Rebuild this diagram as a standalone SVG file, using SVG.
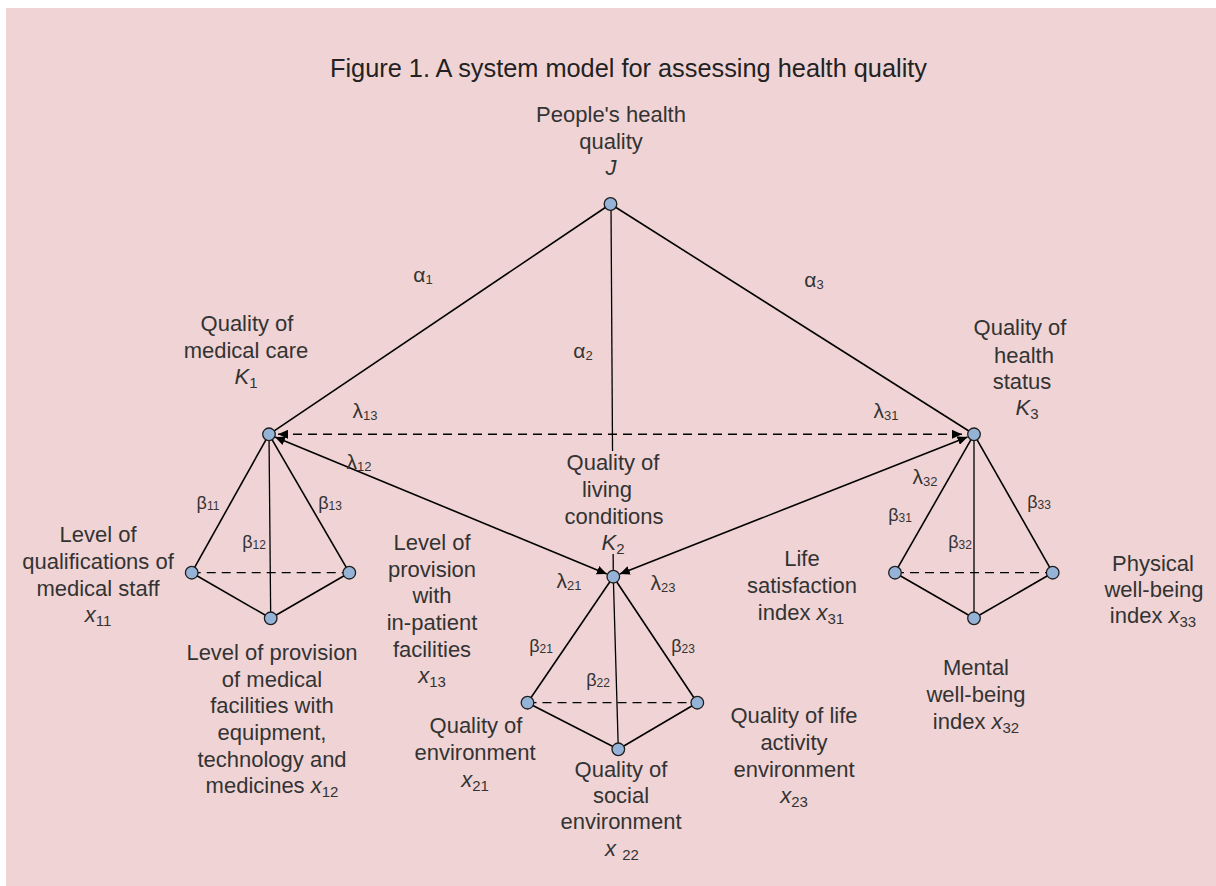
<svg xmlns="http://www.w3.org/2000/svg" width="1216" height="886" viewBox="0 0 1216 886">
  <style>
    .t { font-family: "Liberation Sans", Arial, Helvetica, sans-serif; fill: #333; text-anchor: middle; }
    .lbl { font-size: 22px; }
    .it { font-style: italic; }
    .sub { font-size: 15px; }
    .gk { font-size: 21px; }
    .gb { font-size: 18px; }
    .gs { font-size: 13px; }
    .gsb { font-size: 12px; }
    .ln { stroke: #000; stroke-width: 1.6; fill: none; }
    .thin { stroke-width: 1.3; }
    .dash { stroke-dasharray: 9 6; }
    .node circle { fill: #95B3D7; stroke: #1e1e1e; stroke-width: 1.3; }
  </style>
  <defs>
    <marker id="ah" viewBox="0 0 10 9" refX="10" refY="4.5" markerWidth="10" markerHeight="9" markerUnits="userSpaceOnUse" orient="auto-start-reverse">
      <path d="M0,0 L10,4.5 L0,9 z" fill="#000"/>
    </marker>
  </defs>

  <!-- background panel -->
  <rect x="0" y="0" width="1216" height="886" fill="#ffffff"/>
  <rect x="6" y="8" width="1210" height="878" fill="#F0D4D5"/>

  <text class="t" x="628.5" y="77" font-size="26" textLength="597" lengthAdjust="spacingAndGlyphs" style="fill:#222">Figure 1. A system model for assessing health quality</text>

  <!-- connectors -->
  <g id="connectors">
    <!-- top level weights -->
    <line class="ln" x1="610.5" y1="204" x2="269" y2="434.3"/>
    <line class="ln" x1="610.5" y1="204" x2="974" y2="434.3"/>
    <line class="ln thin" x1="611" y1="204" x2="613.3" y2="576.7"/>

    <!-- mutual influences -->
    <line class="ln dash" x1="278" y1="434.3" x2="962" y2="434.3" marker-start="url(#ah)" marker-end="url(#ah)"/>
    <line class="ln" x1="275" y1="437" x2="606.8" y2="574" marker-start="url(#ah)" marker-end="url(#ah)"/>
    <line class="ln" x1="967.5" y1="436.9" x2="619.8" y2="574.1" marker-start="url(#ah)" marker-end="url(#ah)"/>

    <!-- K1 pyramid -->
    <line class="ln" x1="269" y1="434.3" x2="191.7" y2="572.7"/>
    <line class="ln" x1="269" y1="434.3" x2="349.3" y2="572.7"/>
    <line class="ln thin" x1="269" y1="434.3" x2="270.7" y2="618.3"/>
    <line class="ln" x1="191.7" y1="572.7" x2="270.7" y2="618.3"/>
    <line class="ln" x1="349.3" y1="572.7" x2="270.7" y2="618.3"/>
    <line class="ln thin dash" x1="191.7" y1="572.7" x2="349.3" y2="572.7"/>

    <!-- K2 pyramid -->
    <line class="ln" x1="613.3" y1="576.7" x2="527.5" y2="702.7"/>
    <line class="ln" x1="613.3" y1="576.7" x2="697.3" y2="702.7"/>
    <line class="ln thin" x1="613.3" y1="576.7" x2="618.3" y2="749.3"/>
    <line class="ln" x1="527.5" y1="702.7" x2="618.3" y2="749.3"/>
    <line class="ln" x1="697.3" y1="702.7" x2="618.3" y2="749.3"/>
    <line class="ln thin dash" x1="527.5" y1="702.7" x2="697.3" y2="702.7"/>

    <!-- K3 pyramid -->
    <line class="ln" x1="974" y1="434.3" x2="895" y2="572.7"/>
    <line class="ln" x1="974" y1="434.3" x2="1052.7" y2="572.7"/>
    <line class="ln thin" x1="974" y1="434.3" x2="974" y2="618.3"/>
    <line class="ln" x1="895" y1="572.7" x2="974" y2="618.3"/>
    <line class="ln" x1="1052.7" y1="572.7" x2="974" y2="618.3"/>
    <line class="ln thin dash" x1="895" y1="572.7" x2="1052.7" y2="572.7"/>

    <!-- weight labels -->
    <text class="t gk" x="423" y="282">α<tspan class="gs" dy="2">1</tspan></text>
    <text class="t gk" x="583" y="358">α<tspan class="gs" dy="2">2</tspan></text>
    <text class="t gk" x="814" y="287">α<tspan class="gs" dy="2">3</tspan></text>

    <text class="t gk" x="365" y="418">λ<tspan class="gs" dy="2">13</tspan></text>
    <text class="t gk" x="359" y="469">λ<tspan class="gs" dy="2">12</tspan></text>
    <text class="t gk" x="886" y="418">λ<tspan class="gs" dy="2">31</tspan></text>
    <text class="t gk" x="925" y="484">λ<tspan class="gs" dy="2">32</tspan></text>
    <text class="t gk" x="569" y="588">λ<tspan class="gs" dy="2">21</tspan></text>
    <text class="t gk" x="663" y="590">λ<tspan class="gs" dy="2">23</tspan></text>

    <text class="t gb" x="208" y="509">β<tspan class="gsb" dy="1">11</tspan></text>
    <text class="t gb" x="254" y="548">β<tspan class="gsb" dy="1">12</tspan></text>
    <text class="t gb" x="330" y="509">β<tspan class="gsb" dy="1">13</tspan></text>
    <text class="t gb" x="541" y="652">β<tspan class="gsb" dy="1">21</tspan></text>
    <text class="t gb" x="598" y="686">β<tspan class="gsb" dy="1">22</tspan></text>
    <text class="t gb" x="683" y="652">β<tspan class="gsb" dy="1">23</tspan></text>
    <text class="t gb" x="900" y="521">β<tspan class="gsb" dy="1">31</tspan></text>
    <text class="t gb" x="960" y="548">β<tspan class="gsb" dy="1">32</tspan></text>
    <text class="t gb" x="1039" y="508">β<tspan class="gsb" dy="1">33</tspan></text>
  </g>

  <!-- top node -->
  <g id="node-J" class="node">
    <circle cx="610.5" cy="204" r="6.3"/>
    <text class="t lbl" x="611" y="122">People's health</text>
    <text class="t lbl" x="611" y="148.5">quality</text>
    <text class="t lbl it" x="611" y="175">J</text>
  </g>

  <!-- aggregate criteria -->
  <g id="node-K1" class="node">
    <circle cx="269" cy="434.3" r="6.3"/>
    <text class="t lbl" x="247" y="331">Quality of</text>
    <text class="t lbl" x="246" y="357.5">medical care</text>
    <text class="t lbl" x="246" y="384"><tspan class="it">K</tspan><tspan class="sub" dy="4">1</tspan></text>
  </g>

  <g id="node-K2" class="node">
    <rect x="600" y="451" width="26" height="103" fill="#F0D4D5"/>
    <circle cx="613.3" cy="576.7" r="6.3"/>
    <text class="t lbl" x="613" y="470">Quality of</text>
    <text class="t lbl" x="607" y="497">living</text>
    <text class="t lbl" x="614" y="524">conditions</text>
    <text class="t lbl" x="613" y="550"><tspan class="it">K</tspan><tspan class="sub" dy="4">2</tspan></text>
  </g>

  <g id="node-K3" class="node">
    <circle cx="974" cy="434.3" r="6.3"/>
    <text class="t lbl" x="1020" y="335">Quality of</text>
    <text class="t lbl" x="1024" y="363">health</text>
    <text class="t lbl" x="1022" y="389">status</text>
    <text class="t lbl" x="1027" y="415"><tspan class="it">K</tspan><tspan class="sub" dy="4">3</tspan></text>
  </g>

  <!-- indicators of K1 -->
  <g id="node-x11" class="node">
    <circle cx="191.7" cy="572.7" r="6.3"/>
    <text class="t lbl" x="98" y="542">Level of</text>
    <text class="t lbl" x="98" y="569">qualifications of</text>
    <text class="t lbl" x="98" y="596">medical staff</text>
    <text class="t lbl" x="98" y="622"><tspan class="it">x</tspan><tspan class="sub" dy="4">11</tspan></text>
  </g>

  <g id="node-x12" class="node">
    <circle cx="270.7" cy="618.3" r="6.3"/>
    <text class="t lbl" x="272" y="660">Level of provision</text>
    <text class="t lbl" x="272" y="686.7">of medical</text>
    <text class="t lbl" x="272" y="713.3">facilities with</text>
    <text class="t lbl" x="272" y="740">equipment,</text>
    <text class="t lbl" x="272" y="766.7">technology and</text>
    <text class="t lbl" x="272" y="793.3">medicines <tspan class="it">x</tspan><tspan class="sub" dy="4">12</tspan></text>
  </g>

  <g id="node-x13" class="node">
    <circle cx="349.3" cy="572.7" r="6.3"/>
    <text class="t lbl" x="432" y="550">Level of</text>
    <text class="t lbl" x="432" y="576.7">provision</text>
    <text class="t lbl" x="432" y="603.3">with</text>
    <text class="t lbl" x="432" y="630">in-patient</text>
    <text class="t lbl" x="432" y="656.7">facilities</text>
    <text class="t lbl" x="432" y="683"><tspan class="it">x</tspan><tspan class="sub" dy="4">13</tspan></text>
  </g>

  <!-- indicators of K2 -->
  <g id="node-x21" class="node">
    <circle cx="527.5" cy="702.7" r="6.3"/>
    <text class="t lbl" x="476" y="733">Quality of</text>
    <text class="t lbl" x="475" y="760">environment</text>
    <text class="t lbl" x="475" y="787"><tspan class="it">x</tspan><tspan class="sub" dy="4">21</tspan></text>
  </g>

  <g id="node-x22" class="node">
    <circle cx="618.3" cy="749.3" r="6.3"/>
    <text class="t lbl" x="621" y="777">Quality of</text>
    <text class="t lbl" x="621" y="803">social</text>
    <text class="t lbl" x="621" y="829">environment</text>
    <text class="t lbl" x="622" y="856"><tspan class="it">x</tspan> <tspan class="sub" dy="4">22</tspan></text>
  </g>

  <g id="node-x23" class="node">
    <circle cx="697.3" cy="702.7" r="6.3"/>
    <text class="t lbl" x="794" y="723">Quality of life</text>
    <text class="t lbl" x="794" y="750">activity</text>
    <text class="t lbl" x="794" y="777">environment</text>
    <text class="t lbl" x="794" y="803"><tspan class="it">x</tspan><tspan class="sub" dy="4">23</tspan></text>
  </g>

  <!-- indicators of K3 -->
  <g id="node-x31" class="node">
    <circle cx="895" cy="572.7" r="6.3"/>
    <text class="t lbl" x="802" y="566">Life</text>
    <text class="t lbl" x="802" y="593">satisfaction</text>
    <text class="t lbl" x="801" y="620">index <tspan class="it">x</tspan><tspan class="sub" dy="4">31</tspan></text>
  </g>

  <g id="node-x32" class="node">
    <circle cx="974" cy="618.3" r="6.3"/>
    <text class="t lbl" x="976" y="675">Mental</text>
    <text class="t lbl" x="976" y="702">well-being</text>
    <text class="t lbl" x="976" y="729">index <tspan class="it">x</tspan><tspan class="sub" dy="4">32</tspan></text>
  </g>

  <g id="node-x33" class="node">
    <circle cx="1052.7" cy="572.7" r="6.3"/>
    <text class="t lbl" x="1153" y="571">Physical</text>
    <text class="t lbl" x="1154" y="597">well-being</text>
    <text class="t lbl" x="1153" y="623">index <tspan class="it">x</tspan><tspan class="sub" dy="4">33</tspan></text>
  </g>
</svg>
